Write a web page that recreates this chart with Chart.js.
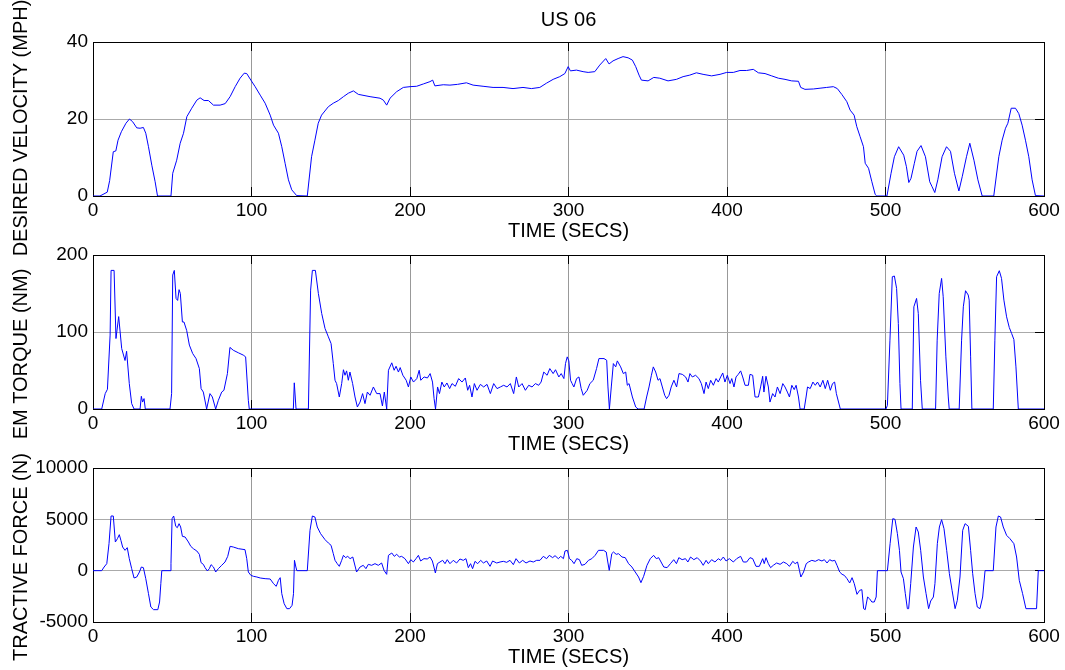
<!DOCTYPE html>
<html>
<head>
<meta charset="utf-8">
<title>US 06</title>
<script src="https://cdn.jsdelivr.net/npm/chart.js@4.4.1/dist/chart.umd.min.js"></script>
<style>
  html, body { margin: 0; padding: 0; background: #fff; overflow: hidden; }
  #wrap { position: relative; width: 1065px; height: 670px; }
  #wrap canvas { position: absolute; left: 0; top: 0; }
</style>
</head>
<body>
<div id="wrap">
  <canvas id="speedChart" width="1065" height="670"></canvas>
  <canvas id="torqueChart" width="1065" height="670"></canvas>
  <canvas id="forceChart" width="1065" height="670"></canvas>
</div>
<script>
// US06 drive cycle: desired speed, EM torque and tractive force vs time
const speedTime = [0, 4.4, 9, 10.5, 12.8, 14.4, 15.8, 17.9, 20.8, 23, 25, 27.6, 29.7, 31.8, 33.3, 35, 37.1, 39.2, 40.7,
  49.2, 50.3, 52.8, 55, 57.1, 59.2, 62.3, 65.5, 67.6, 70.1, 72.8, 76, 80.2, 83.4, 86.5, 89.7, 92.8, 95.4, 97, 99.6,
  102.3, 105.5, 108.6, 111.8, 113.9, 117, 119.1, 121.2, 123.3, 125.4, 128.5, 135.2, 137.9, 140, 142.1, 144.2, 148.5,
  151.6, 154.8, 158, 161.1, 164.3, 167.4, 174.8, 181.1, 183.2, 185.3, 187.4, 191.6, 195.8, 200, 204.2, 208.4, 212.6,
  214.3, 215.7, 221, 225.2, 230, 235.6, 239.8, 246.1, 252.4, 258.7, 265, 271.3, 276.6, 281.9, 286.1, 290.3, 294.5,
  297.7, 299.8, 301.2, 305, 309.2, 312.4, 316.6, 319.7, 323.5, 325.6, 328.1, 331.3, 334.4, 337.6, 340.3, 342.4, 344.5,
  346, 350.2, 353.8, 357.6, 362.8, 368.1, 372.3, 376.5, 380.7, 384.9, 390.3, 395.6, 399.8, 404, 408.2, 412.4, 416.6,
  419.8, 424, 428.2, 432.4, 436.6, 440.8, 445.1, 446.5, 449.2, 454.5, 458.7, 462.9, 467.1, 469.6, 472.4, 475.6, 477.7,
  480.2, 481.9, 484, 486.1, 487.2, 489.3, 491.4, 493.5, 494.5, 500.9, 503.5, 505.6, 508.3, 511.5, 513.2, 514.7, 516.1,
  518.2, 519.9, 522.4, 525.2, 527.9, 529.4, 531.1, 533, 535.7, 538.5, 541, 543.5, 546.3, 548.4, 551.1, 553.2, 555.8,
  558.3, 561, 568.3, 571.5, 573.6, 575.7, 577.2, 579.3, 582, 584.1, 586.2, 588.3, 590.4, 592.5, 594.6, 600];
const speedMph = [0, 0, 1, 4, 11.5, 11.7, 14.5, 16.7, 18.9, 20, 19.3, 17.7, 17.6, 17.8, 16.3, 12.8, 8, 3.7, 0,
  0, 5.9, 9.3, 13.7, 16.3, 20.6, 22.8, 24.9, 25.5, 24.8, 24.8, 23.6, 23.6, 24, 25.8, 28.4, 30.6, 31.9, 31.8, 30.1,
  28.4, 26.2, 24.1, 21, 18.4, 16.3, 12.8, 8.5, 4.2, 1.6, 0.1, 0, 10.2, 14.5, 18.9, 21, 23.2,
  24.1, 24.8, 25.8, 26.7, 27.3, 26.4, 25.8, 25.4, 24.9, 23.6, 25.4, 27.1, 28.2, 28.4, 28.5, 29.1, 29.7,
  30.1, 28.6, 28.9, 28.8, 29, 29.4, 28.8, 28.5, 28.2, 28.2, 27.9, 28.2, 27.9, 28.2, 29.3, 30.3, 31,
  31.8, 33.6, 32.5, 32.7, 32.3, 32.1, 32.3, 34, 35.7, 34.3, 35.1, 35.7, 36.2, 35.9, 35.3, 33.6, 31.4,
  30.1, 29.9, 30.8, 30.6, 29.9, 30.3, 31, 31.4, 32, 31.6, 31.2, 31.6, 32.1, 32.1, 32.6, 32.6, 32.9,
  32, 31.8, 31.2, 30.6, 30.3, 29.9, 29.8, 28.2, 27.7, 27.8, 28, 28.2, 28.4, 27.9, 26.4, 24.5, 22.3,
  21, 18, 15.4, 12.8, 8.5, 7.2, 3.7, 0.4, 0, 0, 5.9, 10.2, 12.8, 10.6, 7.6, 3.5, 4.6,
  8.5, 11.6, 13.1, 10.2, 3.7, 2.4, 0.9, 4.2, 10.2, 12.8, 11.6, 5.9, 1.3, 5, 10.2, 13.7, 9.3,
  4.2, 0, 0, 10.2, 14.5, 17.6, 18.9, 22.8, 22.8, 21.4, 18.4, 14.5, 10.2, 4.2, 0.1, 0];

const torqueTime = [0, 5.5, 7.7, 9.1, 10.8, 11.4, 13.3, 14.5, 16.2, 18.1, 20.2, 21.2, 22.9, 24.4, 25.9, 29.7, 30.5,
  31.3, 32.2, 33, 48.6, 49.6, 50.3, 51.3, 52.4, 53.4, 54.3, 55.1, 56.4, 57.4, 59.1, 60.8, 62.9, 65, 67.1, 68.2, 69.6,
  71.7, 73.8, 75.3, 77.4, 79.1, 81.2, 82.6, 84.8, 86.4, 88.5, 91.7, 94.8, 96.3, 98, 98.6, 126.4, 127, 128.1, 135.9,
  137.3, 138.4, 140.3, 142.2, 144.3, 146.4, 148.5, 150.2, 151.6, 152.7, 153.7, 155.4, 156.9, 158, 159, 160, 161.1,
  162.1, 163.8, 165.3, 166.8, 168.5, 170.1, 171.6, 173.1, 174.8, 176.9, 179, 181.1, 182.6, 183.8, 185.3, 186.4, 188.5,
  190, 191.2, 192.7, 193.8, 195.5, 197.6, 199, 200.5, 202.2, 204.3, 205.8, 206.8, 208.9, 211, 212.7, 214.2, 215.2,
  216.1, 217.4, 218.6, 220.1, 221.6, 223.3, 225, 226.5, 228.6, 230.7, 232.8, 234.9, 236.4, 237.6, 239.1, 240.6, 242.3,
  244.4, 246.5, 248.6, 250.7, 252.8, 254.9, 257, 259.1, 261.2, 263.3, 265.4, 267.1, 268.6, 270.7, 272.8, 274.9, 277,
  279.1, 281.2, 282.7, 284.4, 286.5, 288.2, 290.3, 291.8, 293.9, 295.4, 297.1, 298.1, 299.2, 300.2, 301.3, 302.3,
  303.4, 305.1, 306.6, 308, 309.3, 311.8, 313.5, 315.6, 317.7, 319.2, 322.4, 324.1, 324.9, 325.8, 327, 328.3, 329.8,
  330.8, 332.9, 334.6, 336.1, 337.1, 338.2, 340.3, 342.4, 343.9, 347.7, 349.3, 350.8, 352.3, 353.5, 355, 356.5, 357.7,
  359.2, 360.7, 361.9, 363.4, 364.8, 366.5, 368.2, 369.7, 371.8, 373.9, 375.4, 376.6, 378.1, 380.2, 382.3, 383.8,
  385.5, 386.8, 388.2, 389.7, 391.4, 393.1, 394.5, 396, 397.3, 398.7, 400.2, 401.9, 403, 404.4, 405.7, 407.1, 408.6,
  409.9, 411.4, 413.5, 414.5, 416.2, 417.7, 419.8, 421.2, 422.5, 423.3, 424.6, 426.1, 427.1, 428.8, 430.3, 431.8,
  433.5, 435.2, 436.6, 438.1, 439.4, 440.9, 442.4, 443.6, 445.1, 446.1, 448.7, 449.9, 450.8, 452.5, 454.2, 455.7,
  457.1, 458.8, 460.5, 462, 463.5, 465.2, 466.6, 467.9, 469, 471.5, 500.3, 501.2, 502.8, 504.3, 505.6, 507, 508.1,
  509.1, 509.8, 516.9, 517.9, 519.6, 520.7, 522.1, 523.2, 531.6, 532.6, 533.9, 535.4, 536.4, 538.1, 539.6, 540.2,
  546.5, 548, 549.1, 550.5, 552.2, 552.8, 553.7, 554.5, 568, 569, 570.1, 571.8, 573.2, 574.7, 576.4, 578.1, 579.6,
  581, 582.3, 583.8, 600];
const torqueNm = [0, 0, 20, 25.6, 96, 180, 180, 91.5, 120, 78.5, 63, 75, 33, 7, 0, 0, 16.5,
  9, 13.5, 0, 0, 20, 174, 180, 143.6, 141, 155, 150, 113, 113, 102, 83, 72, 65.5, 52.5, 26.5, 22,
  0, 20, 15.6, 0, 11.3, 22, 24.3, 46, 80, 76.3, 73, 70, 67.7, 11.3, 0, 0, 34, 0, 0,
  154.4, 180, 180, 150, 124, 104.5, 93.7, 85, 59, 37.3, 33, 15.6, 33, 51, 43.8, 49.5, 37.3,
  48, 33, 15.6, 2.6, 9, 20, 7, 22, 17.8, 28.6, 20, 20, 3.9, 22, 0, 50.3, 60,
  50.3, 55.5, 48, 53.8, 43.8, 37.3, 28.6, 41.6, 35, 39.5, 50.3, 37.3, 41.6, 40.3, 46, 35, 13.4,
  0, 28.6, 20, 35, 28.6, 33.8, 26.5, 33, 29.5, 39.5, 35, 40.3, 24.3, 30.8, 15.6, 33, 24.3,
  32, 28.6, 32, 20, 33, 26.5, 28.6, 30.8, 28.6, 33, 20, 41.6, 28.6, 33, 24.3, 30.8, 28.6,
  33, 30.8, 35, 48, 43.8, 52.5, 46, 51, 41.6, 46, 39.5, 59, 67.7, 62.5, 37.3, 33,
  28.6, 39.5, 41.6, 26.5, 17.8, 24.3, 33, 37.3, 52.5, 65.5, 65.5, 63.3, 28.6, 0, 28.6, 59, 54.7,
  62.5, 54.7, 46, 48, 30.8, 33, 15.6, 2.6, 0, 0, 15.6, 28.6, 43.8, 54.7, 48, 37.3, 39.5,
  28.6, 17.8, 13.4, 17.8, 28.6, 37.3, 28.6, 46, 45, 41.6, 35, 46, 41.6, 43.8, 39.5, 33,
  20, 35, 26.5, 37.3, 30.8, 39.5, 35, 41.6, 46.8, 35, 43.8, 33, 39.5, 28.6, 41.6, 45, 49.5,
  41.6, 30.8, 30.8, 45, 43.8, 15.6, 15.6, 28.6, 42.5, 22, 42.5, 28.6, 9, 20, 15.6, 28.6,
  20, 33, 28.6, 22, 15.6, 30.8, 25.2, 30.8, 15.6, 0, 0, 15.6, 28.6, 26.5, 35, 30.8,
  35, 28.6, 37.3, 26.5, 37.3, 24.3, 33, 35, 20, 0, 0, 4.8, 89.4, 171.8, 172.7, 156.6, 111,
  33, 0, 0, 132.7, 143.6, 124, 37.3, 0, 0, 89.4, 150, 169.6, 145.8, 67.7, 15.6, 0,
  0, 89.4, 132.7, 153.6, 148, 141.4, 67.7, 0, 0, 89.4, 171.8, 179.6, 169.6, 141.4, 119.7, 105.8, 98,
  90.2, 54.7, 0, 0];

const forceTime = [0, 5.5, 7, 8.7, 10.1, 11.4, 12.8, 14.1, 15.4, 16.6, 17.6, 18.7, 20.2, 21.6, 22.9, 24.4, 25.9, 27.6,
  29.3, 30.5, 31.8, 33.3, 35, 36.5, 38.2, 40.9, 42, 42.8, 43.4, 48.6, 49.2, 49.9, 50.9, 52.2, 53.2, 54.3, 55.3, 56.4,
  58.1, 60.2, 61.7, 63.3, 65.5, 67.1, 68.2, 69.6, 70.7, 72.2, 73.4, 74.5, 76, 77.4, 79.1, 81.2, 83.3, 85, 86.5, 88.5,
  91.7, 95.9, 97, 98, 99.6, 101.3, 103.4, 105.5, 108.6, 111.8, 113.9, 115.6, 117, 118.1, 119.1, 120.6, 122.3, 124,
  125.6, 126.5, 127.1, 128, 128.6, 135.2, 136.9, 138.4, 140, 141.5, 143.6, 146.4, 148.5, 150.2, 151.6, 152.7, 154.1,
  155.4, 156.9, 158, 159.4, 160.7, 162.2, 163.9, 166.3, 168.5, 170.5, 172.2, 173.7, 175.8, 177.9, 180, 182.1, 183.6,
  185.3, 186.4, 188.5, 190.1, 191.6, 193.3, 194.7, 196.8, 199, 200.5, 202.1, 203.8, 205.3, 206.7, 208.8, 210.9, 212.6,
  214.1, 215.1, 216, 217.3, 218.9, 220.6, 222.1, 223.5, 225.2, 227.3, 229.4, 231.5, 233.6, 235.3, 236.8, 238.2, 239.5,
  241, 242.7, 244.6, 246.3, 248.4, 250.5, 252.1, 254.7, 256.8, 258.9, 261, 263.1, 265.2, 266.9, 269, 271.1, 273.2,
  275.7, 277.8, 279.9, 282, 284.1, 286.2, 287.9, 290, 291.5, 293.6, 295.1, 296.8, 297.8, 299.3, 300.6, 302, 303.5,
  305.2, 306.9, 308.3, 310.4, 312.6, 314.7, 316.8, 318.9, 322.1, 323.8, 324.8, 325.7, 327.3, 328.4, 330.1, 331.6,
  333.7, 335.8, 337.9, 340, 342.1, 344.2, 345.7, 347.4, 349.5, 351.6, 353.7, 355.4, 356.9, 358.4, 360.1, 362.2, 364.3,
  366.4, 368.1, 369.6, 371.7, 373.8, 375.3, 377, 379.1, 381.2, 383.3, 385, 386.8, 388.2, 390.3, 392.4, 394.5, 396,
  397.7, 399.4, 401.5, 404, 406.1, 408.6, 410.3, 412.4, 414.5, 416.2, 418.3, 420.4, 422.5, 423.5, 424.6, 426.1, 427.5,
  429.2, 431.3, 433.5, 435.6, 437.7, 439.4, 441.5, 443, 444.5, 445.7, 446.6, 448.3, 450, 451.4, 453.5, 455.7, 457.8,
  459.9, 461.4, 463.1, 464.8, 466.3, 468, 469.4, 471.1, 472.6, 474, 475.7, 477.4, 478.9, 480.3, 482, 483.7, 485.1,
  486.2, 487.2, 488.7, 489.9, 491.4, 492.9, 494.1, 494.9, 501.2, 502.9, 504.6, 506, 507.5, 508.8, 509.8, 511.3, 512.5,
  513.8, 514.6, 515.9, 517.6, 519.3, 520.7, 522.2, 523.9, 525.6, 527.2, 528.5, 530.2, 531.2, 532.7, 534, 535.4, 536.9,
  538.6, 540.3, 542, 543.9, 545.3, 547, 548.7, 550.2, 552.3, 553.7, 555, 556.5, 557.9, 559.6, 561.3, 562.8, 568,
  569.7, 571.2, 572.6, 574.3, 576.4, 578.5, 581, 582.7, 584.4, 586.5, 588.6, 595.3, 596.4, 600];
const forceN = [0, 0, 357, 682, 2630, 5325, 5325, 2792, 3117, 3507, 2955, 2305, 1981, 2240, 1169, 195, -714, -617,
  -130, 357, 292, -779, -2240, -3539, -3799, -3799, -3052, -1266, 0, 0, 682, 5065, 5325, 4319, 4189, 4578, 4254, 3344,
  3280, 2792, 2370, 2143, 1916, 1591, 779, 617, 292, -32, 195, 584, 357, -130, 195, 520, 844, 1396, 2370, 2305,
  2143, 2045, 1169, -130, -455, -552, -617, -714, -779, -812, -1266, -1526, -942, -682, -2240, -3215, -3701, -3701,
  -3377, -2240, 1007, 357, 0, 0, 3929, 5325, 5228, 4254, 3604, 3020, 2695, 2468, 1656, 1007, 682,
  422, 1007, 1494, 1266, 1396, 1169, 1331, -130, 357, 520, 195, 617, 520, 682, 520, 747, 32,
  -357, 1494, 1721, 1396, 1591, 1331, 1396, 1169, 682, 1072, 844, 1169, 1494, 942, 1169, 1137, 1331,
  942, 357, -227, 682, 844, 1007, 682, 1072, 682, 1007, 747, 1137, 1007, 1169, 292, 682, 195,
  909, 682, 1007, 747, 942, 422, 942, 747, 844, 909, 812, 1007, 584, 1169, 747, 1007, 747,
  942, 844, 1007, 1007, 1396, 1169, 1494, 1266, 1461, 1169, 1396, 1169, 1916, 1981, 1169, 1007, 682,
  1169, 1072, 520, 617, 1007, 1169, 1494, 1981, 1981, 1818, 844, 32, 1656, 1818, 1591, 1656,
  1331, 1266, 682, 357, -130, -617, -1169, -552, 520, 1169, 1494, 1169, 1266, 844, 357, 292, 682,
  1072, 682, 1266, 1072, 1169, 844, 1331, 1072, 1266, 942, 520, 1007, 682, 1072, 844, 1169, 1007,
  1331, 942, 1169, 844, 1169, 1396, 844, 844, 1266, 1169, 422, 422, 1169, 682, 1266, 682, 292,
  520, 747, 617, 844, 682, 422, 909, 682, 844, 32, -617, -130, 682, 844, 1007, 909, 1072,
  942, 1072, 747, 1072, 942, 1007, 520, -130, -357, -455, -779, -1201, -682, -1266, -2305, -1916, -1851,
  -3701, -3799, -2565, -2727, -3052, -3052, -2565, 0, 0, 2630, 5065, 5000, 3604, 1981, -130, -779, -2240,
  -3701, -3701, -1266, 2305, 4254, 3767, 1981, -617, -2240, -3701, -2955, -2565, -1266, 2630, 4254, 4968, 4091,
  1981, -292, -1916, -3701, -2890, -617, 3929, 4578, 4319, 1981, -292, -2240, -3539, -3701, -2565, 0, 0,
  4254, 5325, 5228, 4254, 3442, 3117, 2630, 1331, -942, -2240, -3701, -3701, 0, 0];

const timeRange = [0, 600, 100];
const xTitle = 'TIME (SECS)';

Chart.defaults.font.family = '"Liberation Sans", Arial, sans-serif';
Chart.defaults.color = '#000';

const W = 1065, H = 670;
const plotLeft = 93, plotRight = 1044;
const tickFont = { size: 19, lineHeight: 1 };
const labelFont = { size: 20, lineHeight: 1 };
const tickLen = -9;

// rotated y-axis caption, placed independently of the plot centre
const sideLabel = {
  id: 'sideLabel',
  afterDraw(chart, args, opts) {
    if (!opts.text) return;
    const ctx = chart.ctx;
    ctx.save();
    ctx.translate(opts.x, opts.y);
    ctx.rotate(-Math.PI / 2);
    ctx.font = '20px "Liberation Sans", Arial, sans-serif';
    ctx.fillStyle = '#000';
    ctx.textAlign = 'center';
    ctx.textBaseline = 'middle';
    ctx.fillText(opts.text, 0, 0);
    ctx.restore();
  }
};

function toPoints(xs, ys) {
  return xs.map((t, i) => ({ x: t, y: ys[i] }));
}

// keep the end tick labels from pushing the plot area inwards
function fixHeight(h) {
  return s => { s.height = h; s.paddingLeft = 0; s.paddingRight = 0; };
}

function makePanel(id, p) {
  const xAxisH = Math.min(50, H - p.bottom);
  const padBottom = H - p.bottom - xAxisH;
  const xTitlePad = xAxisH - p.xTitleGap - labelFont.size / 2;
  const tickPad = p.tickGap - tickFont.size / 2 - tickLen;

  return new Chart(document.getElementById(id), {
    type: 'line',
    data: {
      datasets: [{
        data: toPoints(p.xs, p.ys),
        xAxisID: 'x',
        yAxisID: 'y',
        borderColor: '#0000ff',
        borderWidth: 1,
        pointRadius: 0,
        tension: 0,
        fill: false
      }]
    },
    options: {
      responsive: false,
      devicePixelRatio: 1,
      animation: false,
      events: [],
      layout: { padding: { top: p.title ? 0 : p.top, bottom: padBottom, left: 0, right: W - plotRight } },
      plugins: {
        legend: { display: false },
        tooltip: { enabled: false },
        title: {
          display: !!p.title,
          text: p.title,
          fullSize: false,
          color: '#000',
          font: { size: 20, lineHeight: 1, weight: 'normal' },
          padding: { top: 10, bottom: p.top - 30 }
        },
        sideLabel: { text: p.yTitle, x: 21, y: p.yTitleY }
      },
      scales: {
        x: {
          type: 'linear', position: 'bottom',
          min: timeRange[0], max: timeRange[1],
          afterFit: fixHeight(xAxisH),
          ticks: { stepSize: timeRange[2], font: tickFont, padding: tickPad, maxRotation: 0, autoSkip: false, callback: v => String(v) },
          grid: { color: '#999999', tickColor: '#000', tickLength: tickLen },
          border: { color: '#000', width: 1 },
          title: { display: true, text: xTitle, font: labelFont, padding: { top: 0, bottom: xTitlePad } }
        },
        xTop: {
          type: 'linear', position: 'top',
          min: timeRange[0], max: timeRange[1],
          afterFit: fixHeight(0),
          ticks: { stepSize: timeRange[2], display: false },
          grid: { drawOnChartArea: false, tickColor: '#000', tickLength: tickLen },
          border: { color: '#000', width: 1 }
        },
        y: {
          type: 'linear', position: 'left',
          min: p.yRange[0], max: p.yRange[1],
          afterFit: s => { s.width = plotLeft; },
          ticks: { stepSize: p.yRange[2], font: tickFont, padding: 5, callback: v => String(v) },
          grid: { color: '#aaaaaa', drawTicks: false },
          border: { color: '#000', width: 1 }
        },
        yRight: {
          type: 'linear', position: 'right',
          min: p.yRange[0], max: p.yRange[1],
          afterFit: s => { s.width = 0; },
          ticks: { stepSize: p.yRange[2], display: false },
          grid: { drawOnChartArea: false, tickColor: '#000', tickLength: tickLen },
          border: { color: '#000', width: 1 }
        }
      }
    },
    plugins: [sideLabel]
  });
}

makePanel('speedChart', {
  xs: speedTime, ys: speedMph, yRange: [0, 40, 20],
  title: 'US 06', yTitle: 'DESIRED VELOCITY (MPH)', yTitleY: 128,
  top: 42, bottom: 196, tickGap: 14.4, xTitleGap: 35.6
});

makePanel('torqueChart', {
  xs: torqueTime, ys: torqueNm, yRange: [0, 200, 100],
  yTitle: 'EM TORQUE (NM)', yTitleY: 354,
  top: 255, bottom: 409, tickGap: 14.4, xTitleGap: 35.6
});

makePanel('forceChart', {
  xs: forceTime, ys: forceN, yRange: [-5000, 10000, 5000],
  yTitle: 'TRACTIVE FORCE (N)', yTitleY: 557,
  top: 468, bottom: 622, tickGap: 14.4, xTitleGap: 35.5
});
</script>
</body>
</html>
